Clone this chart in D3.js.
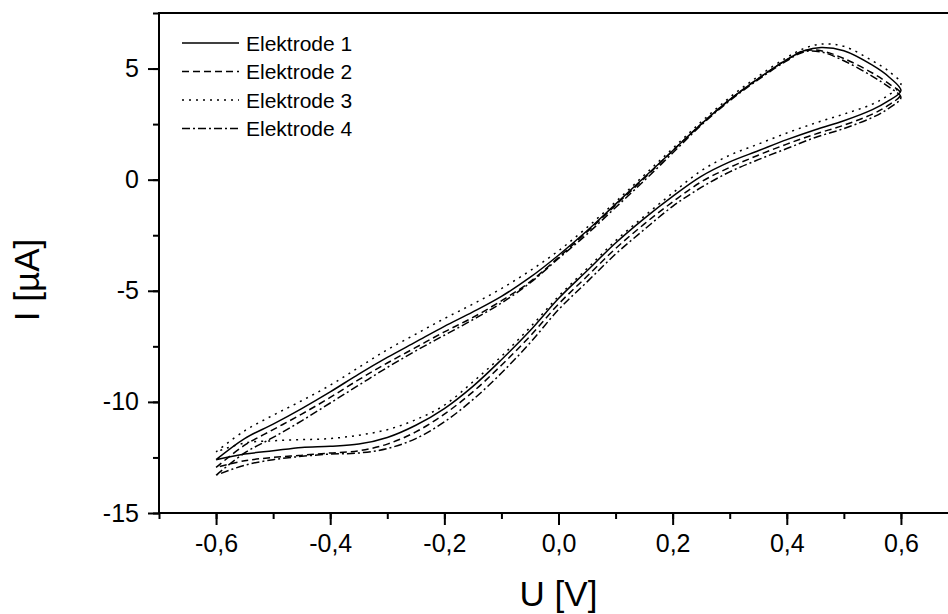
<!DOCTYPE html>
<html>
<head>
<meta charset="utf-8" />
<script src="https://cdn.jsdelivr.net/npm/d3@7"></script>
<style>
  body { margin: 0; background: #fff; }
  svg { display: block; font-family: "Liberation Sans", Arial, sans-serif; }
</style>
</head>
<body>
<svg id="chart" width="948" height="614"></svg>
<script>
// * potential sweep (V)
const sweepForward = [-0.6, -0.55, -0.5, -0.45, -0.4, -0.35, -0.3, -0.25, -0.2, -0.15, -0.1, -0.05, 0, 0.05, 0.1, 0.15, 0.2, 0.25, 0.3, 0.35, 0.4, 0.43, 0.46, 0.5, 0.55, 0.58, 0.6];
const sweepReverse = [0.6, 0.575, 0.55, 0.5, 0.45, 0.4, 0.35, 0.3, 0.25, 0.2, 0.15, 0.1, 0.05, 0, -0.05, -0.1, -0.15, -0.2, -0.25, -0.3, -0.35, -0.4, -0.45, -0.5, -0.55, -0.6];

// * current (µA) per electrode, forward and reverse sweep
const e1Forward = [-12.6, -11.65, -11.0, -10.3, -9.55, -8.75, -8.0, -7.3, -6.6, -5.95, -5.25, -4.4, -3.4, -2.3, -1.1, 0.1, 1.3, 2.5, 3.6, 4.55, 5.4, 5.8, 5.95, 5.8, 5.15, 4.6, 4.0];
const e1Reverse = [4.0, 3.5, 3.15, 2.65, 2.25, 1.8, 1.3, 0.8, 0.15, -0.75, -1.75, -2.85, -4.1, -5.35, -6.8, -8.1, -9.3, -10.3, -11.05, -11.6, -11.9, -12.0, -12.05, -12.2, -12.35, -12.6];
const e2Forward = [-12.95, -11.95, -11.25, -10.55, -9.8, -9.0, -8.25, -7.55, -6.85, -6.2, -5.45, -4.6, -3.5, -2.35, -1.15, 0.05, 1.3, 2.5, 3.6, 4.55, 5.4, 5.8, 5.8, 5.45, 4.8, 4.3, 3.85];
const e2Reverse = [3.85, 3.3, 2.95, 2.45, 2.05, 1.6, 1.1, 0.55, -0.1, -1.0, -2.0, -3.1, -4.35, -5.6, -7.05, -8.35, -9.55, -10.55, -11.35, -11.9, -12.2, -12.3, -12.4, -12.5, -12.65, -12.95];
const e3Forward = [-12.25, -11.3, -10.6, -9.95, -9.25, -8.45, -7.65, -6.95, -6.25, -5.6, -4.9, -4.1, -3.2, -2.15, -1.0, 0.2, 1.4, 2.6, 3.7, 4.65, 5.5, 5.9, 6.1, 6.0, 5.35, 4.85, 4.3];
const e3Reverse = [4.3, 3.75, 3.4, 2.95, 2.55, 2.1, 1.6, 1.1, 0.4, -0.6, -1.65, -2.75, -4.0, -5.25, -6.65, -7.95, -9.1, -10.15, -10.8, -11.25, -11.5, -11.65, -11.7, -11.75, -11.85, -12.25];
const e4Forward = [-13.3, -12.3, -11.6, -10.85, -10.05, -9.25, -8.45, -7.7, -7.0, -6.3, -5.55, -4.65, -3.55, -2.45, -1.25, -0.05, 1.2, 2.45, 3.55, 4.5, 5.35, 5.75, 5.75, 5.35, 4.65, 4.15, 3.7];
const e4Reverse = [3.7, 3.15, 2.8, 2.3, 1.9, 1.4, 0.9, 0.35, -0.35, -1.2, -2.25, -3.35, -4.6, -5.85, -7.35, -8.7, -9.9, -10.9, -11.65, -12.1, -12.3, -12.35, -12.45, -12.6, -12.85, -13.3];

const electrodes = ["Elektrode 1", "Elektrode 2", "Elektrode 3", "Elektrode 4"];
const xTicks = [-0.6, -0.4, -0.2, 0, 0.2, 0.4, 0.6];
const yTicks = [-15, -10, -5, 0, 5];

const series = [
  { name: electrodes[0], fwd: e1Forward, rev: e1Reverse, dash: null },
  { name: electrodes[1], fwd: e2Forward, rev: e2Reverse, dash: "7,4" },
  { name: electrodes[2], fwd: e3Forward, rev: e3Reverse, dash: "2,5" },
  { name: electrodes[3], fwd: e4Forward, rev: e4Reverse, dash: "8,3,2,3" },
].map((s) => ({
  ...s,
  points: sweepForward
    .map((v, i) => [v, s.fwd[i]])
    .concat(sweepReverse.slice(1).map((v, i) => [v, s.rev[i + 1]])),
}));

const svg = d3.select("#chart");
const fmt = (d) => d3.format(".1f")(d).replace(".", ",").replace("−", "-");

const xScale = d3.scaleLinear().domain([-0.7, 0.7]).range([159, 958]);
const yScale = d3.scaleLinear().domain([-15, 7.5]).range([513, 13]);

// * curves
const line = d3
  .line()
  .x((d) => xScale(d[0]))
  .y((d) => yScale(d[1]))
  .curve(d3.curveCatmullRom.alpha(0.5));

svg
  .append("g")
  .selectAll("path")
  .data(series)
  .enter()
  .append("path")
  .attr("d", (s) => line(s.points))
  .style("fill", "none")
  .style("stroke", "black")
  .style("stroke-width", 1.5)
  .style("stroke-dasharray", (s) => s.dash);

// * axes, major + minor ticks
const xAxis = svg.append("g").attr("transform", `translate(0,${yScale(-15)})`);
xAxis
  .call(d3.axisBottom(xScale).tickValues(d3.range(-0.7, 0.71, 0.1)).tickSize(6).tickFormat(""))
  .call((g) => g.select(".domain").remove());
xAxis
  .append("g")
  .call(d3.axisBottom(xScale).tickValues(xTicks).tickSize(12).tickPadding(9).tickFormat(fmt))
  .call((g) => g.select(".domain").remove());

const yAxis = svg.append("g").attr("transform", `translate(${xScale(-0.7)},0)`);
yAxis
  .call(d3.axisLeft(yScale).tickValues(d3.range(-15, 7.6, 2.5)).tickSize(6).tickFormat(""))
  .call((g) => g.select(".domain").remove());
yAxis
  .append("g")
  .call(d3.axisLeft(yScale).tickValues(yTicks).tickSize(11).tickPadding(9).tickFormat((d) => `${d}`))
  .call((g) => g.select(".domain").remove());

svg.selectAll(".tick line").style("stroke", "black").style("stroke-width", 2);
svg
  .selectAll(".tick text")
  .style("font-size", "25px")
  .style("fill", "black")
  .style("font-family", '"Liberation Sans", Arial, sans-serif');

// * frame
svg
  .append("rect")
  .attr("x", xScale(-0.7))
  .attr("y", yScale(7.5))
  .attr("width", xScale(0.7) - xScale(-0.7))
  .attr("height", yScale(-15) - yScale(7.5))
  .style("fill", "none")
  .style("stroke", "black")
  .style("stroke-width", 2);

// * titles
svg
  .append("text")
  .attr("x", (xScale(-0.7) + xScale(0.7)) / 2)
  .attr("y", 606)
  .attr("text-anchor", "middle")
  .style("font-size", "35px")
  .text("U [V]");

svg
  .append("text")
  .attr("transform", "translate(39,280) rotate(-90)")
  .attr("text-anchor", "middle")
  .style("font-size", "35px")
  .text("I [µA]");

// * legend
const legend = svg
  .append("g")
  .selectAll("g")
  .data(series)
  .enter()
  .append("g")
  .attr("transform", (s, i) => `translate(182,${43 + i * 28.5})`);

legend
  .append("line")
  .attr("x1", 0)
  .attr("x2", 57)
  .style("stroke", "black")
  .style("stroke-width", 1.5)
  .style("stroke-dasharray", (s) => s.dash);

legend
  .append("text")
  .attr("x", 64)
  .attr("dy", "0.36em")
  .style("font-size", "21px")
  .text((s) => s.name);
</script>
</body>
</html>
